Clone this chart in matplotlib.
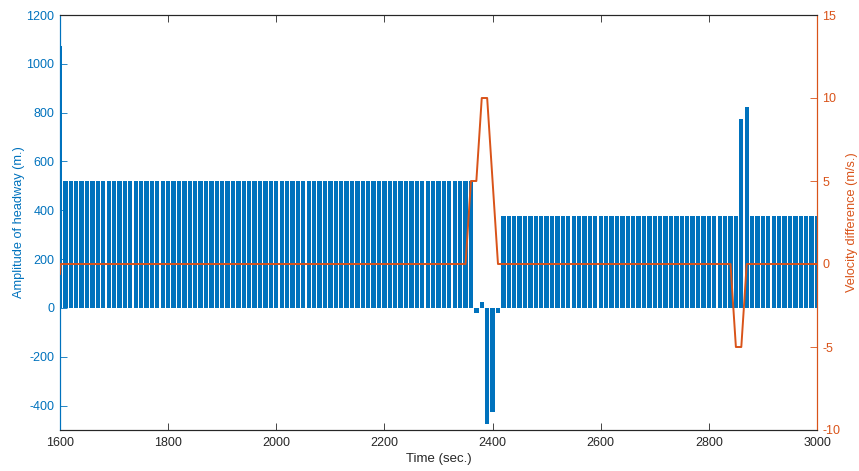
import matplotlib
matplotlib.use("Agg")
import matplotlib.pyplot as plt
import numpy as np

plt.rcParams['font.family'] = ['Liberation Sans', 'DejaVu Sans']
plt.rcParams['axes.unicode_minus'] = False

# ---- data ----
bar_start = 1600
bar_step = 10
headway = ([1075] + [520] * 76 +
           [-20, 25, -475, -425, -20] +
           [375] * 44 + [775, 825] + [375] * 13)
bar_times = [bar_start + bar_step * i for i in range(len(headway))]

vel_time = [1600, 1601, 2350, 2360, 2370, 2380, 2390, 2410, 2840, 2850, 2860, 2870, 3000]
vel_values = [-0.6, 0, 0, 5, 5, 10, 10, 0, 0, -5, -5, 0, 0]

x_ticks = [1600, 1800, 2000, 2200, 2400, 2600, 2800, 3000]
left_ticks = [-400, -200, 0, 200, 400, 600, 800, 1000, 1200]
right_ticks = [-10, -5, 0, 5, 10, 15]

BLUE = '#0072BD'
ORANGE = '#D95319'
GREY = '#262626'

fig = plt.figure(figsize=(8.59, 4.71), dpi=100)
ax = fig.add_axes([60 / 859, 41 / 471, 757 / 859, 415 / 471])
ax2 = ax.twinx()

ax.bar(bar_times, headway, width=8, color=BLUE, edgecolor='none', zorder=2)
ax2.plot(vel_time, vel_values, color=ORANGE, lw=1.4, zorder=3)

ax.set_xlim(1600, 3000)
ax.set_ylim(-500, 1200)
ax2.set_ylim(-10, 15)
ax.set_xticks(x_ticks)
ax.set_yticks(left_ticks)
ax2.set_yticks(right_ticks)

ax.tick_params(axis='x', direction='in', top=True, length=5, width=0.6,
               colors=GREY, labelsize=9, pad=5)
ax.tick_params(axis='y', direction='in', length=5, width=0.6,
               colors=BLUE, labelsize=9, pad=4)
ax2.tick_params(axis='y', direction='in', length=5, width=0.6,
                colors=ORANGE, labelsize=9, pad=4)

for a in (ax, ax2):
    a.spines['top'].set_color(GREY)
    a.spines['bottom'].set_color(GREY)
    a.spines['left'].set_color(BLUE)
    a.spines['right'].set_color(ORANGE)
    for s in a.spines.values():
        s.set_linewidth(0.8)

ax.set_xlabel('Time (sec.)', fontsize=9.5, color=GREY, labelpad=3)
ax.set_ylabel('Amplitude of headway (m.)', fontsize=9.2, color=BLUE, labelpad=1)
ax2.set_ylabel('Velocity difference (m/s.)', fontsize=9.2, color=ORANGE, labelpad=4)

fig.savefig('out.png', dpi=100)
